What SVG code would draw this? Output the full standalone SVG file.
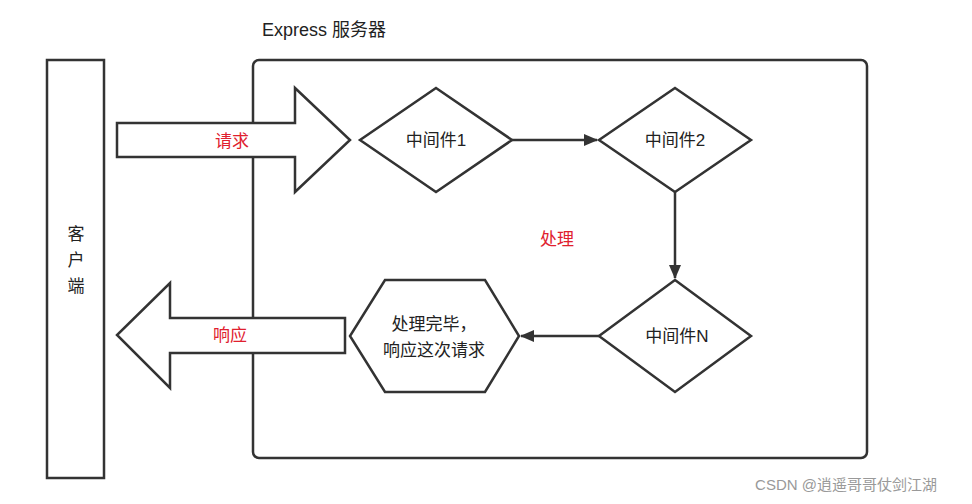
<svg xmlns="http://www.w3.org/2000/svg" width="972" height="504" viewBox="0 0 972 504">
<defs>
<style>
.s{fill:#fff;stroke:#333;stroke-width:2.5}
.t{font-family:"Liberation Sans","Noto Sans CJK SC",sans-serif;font-size:17px;fill:#222;text-anchor:middle}
.r{fill:#e0202e}
.c{stroke:#333;stroke-width:2.5;fill:none}
</style>
<marker id="a" markerWidth="14" markerHeight="12" refX="13" refY="6" orient="auto" markerUnits="userSpaceOnUse"><path d="M0,0 L14,6 L0,12 z" fill="#333"/></marker>
</defs>
<rect width="972" height="504" fill="#fff"/>
<text x="262" y="36" class="t" style="font-size:18px;text-anchor:start">Express 服务器</text>
<g id="express"><rect x="253" y="60" width="614" height="398" rx="6" class="s"/></g>
<g id="client"><rect x="47" y="60" width="57" height="418" class="s"/>
<text x="76" y="240" class="t">客</text><text x="76" y="266" class="t">户</text><text x="76" y="292" class="t">端</text></g>
<g id="req"><path d="M117,123 H295 V88 L350,140 L295,192 V157 H117 Z" class="s"/><text x="232" y="147" class="t r">请求</text></g>
<g id="res"><path d="M345,318 H170 V283 L117,335 L170,388 V353 H345 Z" class="s"/><text x="230" y="341" class="t r">响应</text></g>
<g id="m1"><path d="M436,88 L512,140 L436,192 L360,140 Z" class="s"/><text x="436" y="146" class="t">中间件1</text></g>
<g id="m2"><path d="M675,88 L751,140 L675,192 L599,140 Z" class="s"/><text x="675" y="146" class="t">中间件2</text></g>
<g id="mn"><path d="M675,280 L751,336 L675,392 L599,336 Z" class="s"/><text x="677" y="342" class="t">中间件N</text></g>
<g id="done"><path d="M385,280 H485 L519,336 L485,392 H385 L350,336 Z" class="s"/>
<text x="434" y="330" class="t">处理完毕，</text><text x="434" y="356" class="t">响应这次请求</text></g>
<text x="557" y="245" class="t r">处理</text>
<g id="connectors">
<line x1="512" y1="140" x2="597" y2="140" class="c" marker-end="url(#a)"/>
<line x1="675" y1="192" x2="675" y2="278" class="c" marker-end="url(#a)"/>
<line x1="599" y1="336" x2="521" y2="336" class="c" marker-end="url(#a)"/>
</g>
<text x="846" y="490" class="t" style="fill:#999;font-size:15px">CSDN @逍遥哥哥仗剑江湖</text>
</svg>
